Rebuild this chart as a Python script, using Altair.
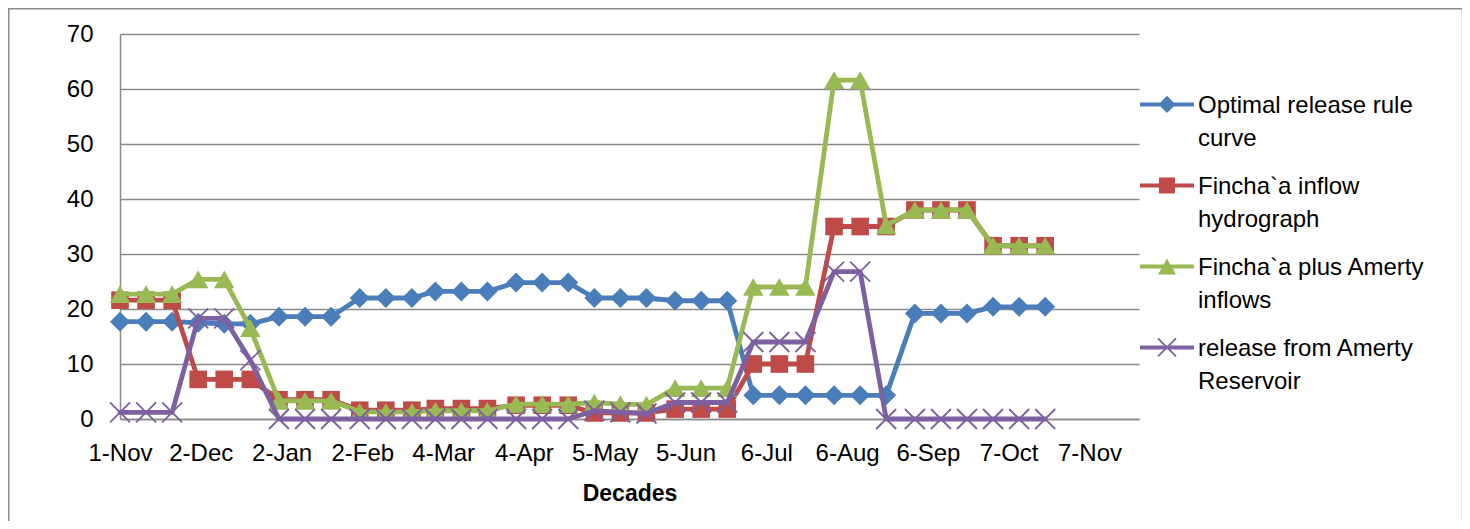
import json
import math
import altair as alt
import pandas as pd

# ---------------- data ----------------
dates = [
    "2011-11-01", "2011-11-11", "2011-11-21",
    "2011-12-01", "2011-12-11", "2011-12-21",
    "2012-01-01", "2012-01-11", "2012-01-21",
    "2012-02-01", "2012-02-11", "2012-02-21",
    "2012-03-01", "2012-03-11", "2012-03-21",
    "2012-04-01", "2012-04-11", "2012-04-21",
    "2012-05-01", "2012-05-11", "2012-05-21",
    "2012-06-01", "2012-06-11", "2012-06-21",
    "2012-07-01", "2012-07-11", "2012-07-21",
    "2012-08-01", "2012-08-11", "2012-08-21",
    "2012-09-01", "2012-09-11", "2012-09-21",
    "2012-10-01", "2012-10-11", "2012-10-21",
]

optimal_release = [17.7, 17.7, 17.7, 17.5, 17.3, 17.3, 18.6, 18.6, 18.6,
                   22.0, 22.0, 22.0, 23.2, 23.2, 23.2, 24.8, 24.8, 24.8,
                   22.0, 22.0, 22.0, 21.5, 21.5, 21.5, 4.3, 4.3, 4.3,
                   4.3, 4.3, 4.3, 19.2, 19.2, 19.2, 20.4, 20.4, 20.4]

fincha_inflow = [21.6, 21.6, 21.6, 7.2, 7.2, 7.2, 3.5, 3.5, 3.5,
                 1.6, 1.6, 1.6, 1.9, 1.9, 1.9, 2.5, 2.5, 2.5,
                 1.1, 1.1, 1.1, 1.8, 1.8, 1.8, 10.0, 10.0, 10.0,
                 35.0, 35.0, 35.0, 38.0, 38.0, 38.0, 31.5, 31.5, 31.5]

fincha_plus_amerty = [22.7, 22.7, 22.7, 25.4, 25.4, 16.5, 3.3, 3.3, 3.3,
                      1.3, 1.3, 1.3, 1.5, 1.5, 1.5, 2.7, 2.7, 2.7,
                      3.0, 2.7, 2.6, 5.6, 5.6, 5.6, 24.0, 24.0, 24.0,
                      61.6, 61.6, 35.2, 38.0, 38.0, 38.0, 31.5, 31.5, 31.5]

amerty_release = [1.2, 1.2, 1.2, 18.3, 18.3, 10.7, 0.0, 0.0, 0.0,
                  0.0, 0.0, 0.0, 0.0, 0.0, 0.0, 0.0, 0.0, 0.0,
                  1.5, 1.2, 1.0, 3.0, 3.0, 3.0, 14.0, 14.0, 14.0,
                  26.8, 26.8, 0.0, 0.0, 0.0, 0.0, 0.0, 0.0, 0.0]

series_names = [
    "Optimal release rule curve",
    "Fincha`a inflow hydrograph",
    "Fincha`a plus Amerty inflows",
    "release from Amerty Reservoir",
]
legend_lines = [
    ["Optimal release rule", "curve"],
    ["Fincha`a inflow", "hydrograph"],
    ["Fincha`a plus Amerty", "inflows"],
    ["release from Amerty", "Reservoir"],
]
tick_labels = ["1-Nov", "2-Dec", "2-Jan", "2-Feb", "4-Mar", "4-Apr", "5-May",
               "5-Jun", "6-Jul", "6-Aug", "6-Sep", "7-Oct", "7-Nov"]
tick_dates = ["2011-11-01", "2011-12-02", "2012-01-02", "2012-02-02", "2012-03-04",
              "2012-04-04", "2012-05-05", "2012-06-05", "2012-07-06", "2012-08-06",
              "2012-09-06", "2012-10-07", "2012-11-07"]
x_end_date = "2012-11-26"
y_ticks = [0, 10, 20, 30, 40, 50, 60, 70]

# ---------------- styling ----------------
FONT = "Liberation Sans"
colors = ["#4A7EBB", "#BE4B48", "#98B954", "#7D60A0"]
GRID = "#8a8a8a"

start = pd.Timestamp(dates[0])
day_of = lambda d: int((pd.Timestamp(d) - start).days)
tick_days = [day_of(d) for d in tick_dates]
x_end = day_of(x_end_date)

all_values = [optimal_release, fincha_inflow, fincha_plus_amerty, amerty_release]
rows = []
for name, vals in zip(series_names, all_values):
    for d, v in zip(dates, vals):
        rows.append({"day": day_of(d), "series": name, "value": v})
df = pd.DataFrame(rows)

x_enc = alt.X("day:Q", scale=alt.Scale(domain=[0, x_end], nice=False, zero=False),
              axis=alt.Axis(values=tick_days,
                            labelExpr=f"{json.dumps(tick_labels)}[indexof({json.dumps(tick_days)}, datum.value)]",
                            ticks=False, tickSize=0, grid=False, labelFlush=False,
                            labelOverlap=False, labelBaseline="middle", labelPadding=34,
                            domainColor=GRID, domainWidth=1.5,
                            title="Decades", titleFontWeight="bold", titleFontSize=23,
                            titleBaseline="middle", titleY=74))
y_enc = alt.Y("value:Q", scale=alt.Scale(domain=[0, 70], nice=False),
              axis=alt.Axis(values=y_ticks, ticks=False, tickSize=0, labelPadding=27,
                            grid=True, gridColor=GRID, gridWidth=1.5,
                            domainColor=GRID, domainWidth=1.5, title=None,
                            labelFlush=False))

# X marker path (unit box)
x_path = "M-1,-1L1,1M-1,1L1,-1"


def poly_path(polys):
    out = []
    for pts in polys:
        area = 0.0
        for i in range(len(pts)):
            x1, y1 = pts[i]
            x2, y2 = pts[(i + 1) % len(pts)]
            area += x1 * y2 - x2 * y1
        if area < 0:
            pts = pts[::-1]
        out.append("M" + "L".join(f"{x:.3f},{y:.3f}" for x, y in pts) + "Z")
    return "".join(out)


# legend glyphs: line + marker (units of 7 px)
U = 7.0
sy = -8.6 / U
hl, ht = 27 / U, 2.0 / U
line_poly = [(-hl, sy - ht), (hl, sy - ht), (hl, sy + ht), (-hl, sy + ht)]
d = 8.6 / U
diamond_poly = [(0, sy - d), (d, sy), (0, sy + d), (-d, sy)]
s = 8.0 / U
square_poly = [(-s, sy - s), (s, sy - s), (s, sy + s), (-s, sy + s)]
tw, th = 9.0 / U, 8.0 / U
tri_poly = [(0, sy - th), (tw, sy + th), (-tw, sy + th)]
a, t = 9.0 / U, 0.9 / U / math.sqrt(2)
bar1 = [(-a + t, sy - a - t), (a + t, sy + a - t), (a - t, sy + a + t), (-a - t, sy - a + t)]
bar2 = [(-a + t, sy + a + t), (a + t, sy - a + t), (a - t, sy - a - t), (-a - t, sy + a - t)]
legend_paths = [
    poly_path([line_poly, diamond_poly]),
    poly_path([line_poly, square_poly]),
    poly_path([line_poly, tri_poly]),
    poly_path([line_poly, bar1, bar2]),
]

legend_expr = " : ".join(
    f"datum.label == {json.dumps(n)} ? {json.dumps(l)}" for n, l in zip(series_names, legend_lines)
) + " : datum.label"

leg = alt.Legend(title=None, orient="none", legendX=1015, legendY=67, padding=0,
                 symbolSize=196, symbolOffset=20, labelOffset=19,
                 labelFont=FONT, labelFontSize=24, labelColor="#000000",
                 labelBaseline="alphabetic", labelLimit=400, labelExpr=legend_expr,
                 rowPadding=24, symbolStrokeWidth=0, symbolOpacity=1, zindex=5)

base = alt.Chart(df)

frame = alt.Chart(pd.DataFrame({"f": [0]})).mark_rect(
    filled=False, stroke=GRID, strokeWidth=1.5
).encode(x=alt.value(-111.25), x2=alt.value(1342.5), y=alt.value(-25.25), y2=alt.value(520))

marker_specs = [
    dict(shape="diamond", size=400, filled=True),
    dict(shape="square", size=310, filled=True),
    dict(shape="triangle-up", size=420, filled=True),
    dict(shape=x_path, size=400, filled=False, strokeWidth=1.8),
]

layers = [frame]
for name, col, spec in zip(series_names, colors, marker_specs):
    sub = base.transform_filter(alt.datum.series == name)
    layers.append(sub.mark_line(strokeWidth=4.8, strokeJoin="round", strokeCap="round").encode(
        x=x_enc, y=y_enc, color=alt.value(col)))
    layers.append(sub.mark_point(opacity=1, **spec).encode(
        x=x_enc, y=y_enc, color=alt.value(col)))

legend_layer = base.transform_filter("false").mark_point(filled=True, opacity=1).encode(
    x=x_enc, y=y_enc,
    color=alt.Color("series:N", scale=alt.Scale(domain=series_names, range=colors), legend=leg),
    shape=alt.Shape("series:N", scale=alt.Scale(domain=series_names, range=legend_paths), legend=leg),
)
layers.append(legend_layer)

chart = alt.layer(*layers).properties(
    width=1019, height=385,
    padding={"left": 112, "top": 26, "right": 323, "bottom": 102},
    autosize=alt.AutoSizeParams(type="none"),
).configure(
    font=FONT,
    style={"guide-label": {"lineHeight": 33}},
).configure_axis(
    labelFont=FONT, labelFontSize=24, labelColor="#000000",
    titleFont=FONT, titleColor="#000000",
).configure_view(strokeWidth=0)

chart.save("out.html", embed_options={"renderer": "svg", "actions": False})
